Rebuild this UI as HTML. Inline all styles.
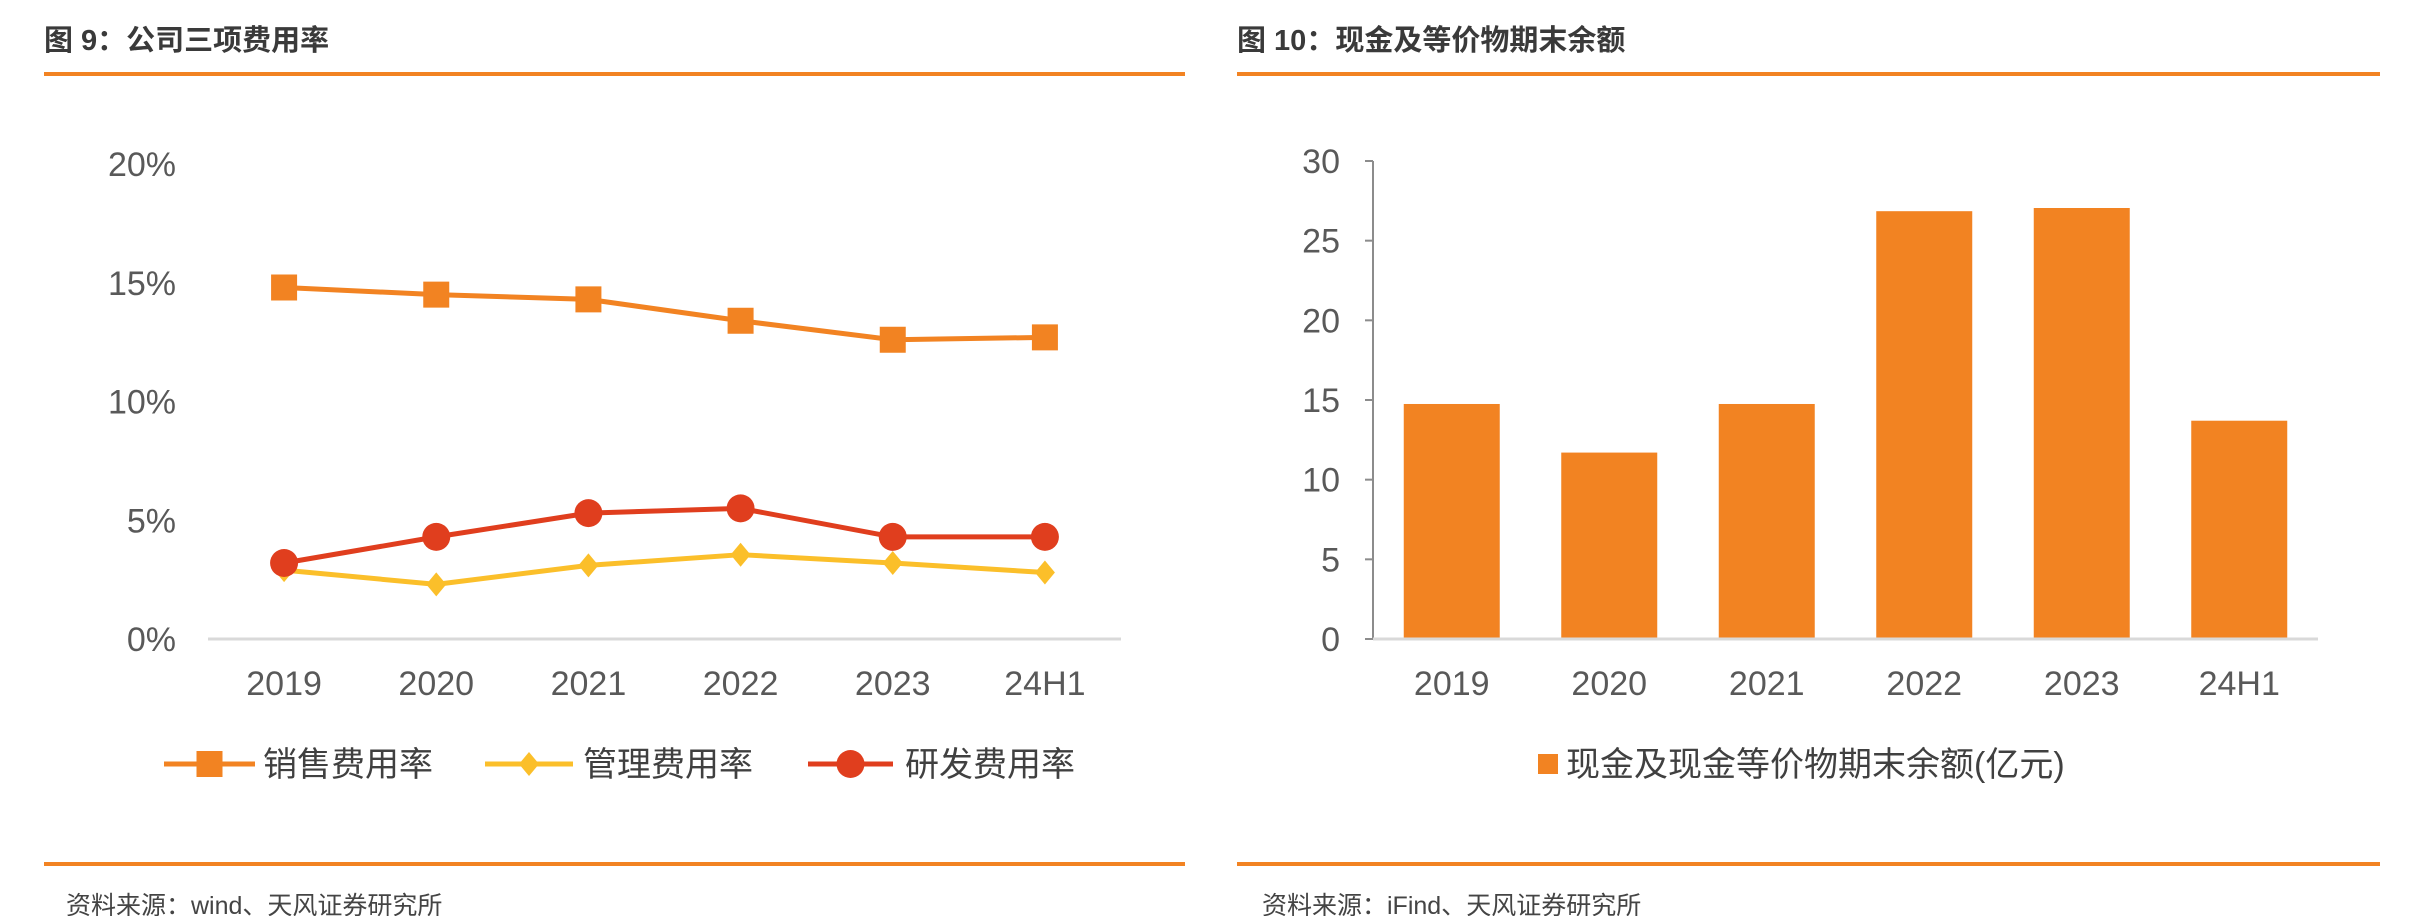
<!DOCTYPE html>
<html><head><meta charset="utf-8"><style>
html,body{margin:0;padding:0;background:#fff;}
svg{display:block;font-family:"Liberation Sans","Noto Sans CJK SC",sans-serif;}
</style></head><body>
<svg id="c" width="2420" height="916" viewBox="0 0 2420 916">
<text x="44" y="50" font-size="29" font-weight="bold" fill="#3a3a3a">图 9：公司三项费用率</text>
<rect x="44" y="72" width="1141" height="4" fill="#F28322"/>
<rect x="44" y="862" width="1141" height="4" fill="#F28322"/>
<text x="66" y="914" font-size="25" fill="#444">资料来源：wind、天风证券研究所</text>
<text x="1237" y="50" font-size="29" font-weight="bold" fill="#3a3a3a">图 10：现金及等价物期末余额</text>
<rect x="1237" y="72" width="1143" height="4" fill="#F28322"/>
<rect x="1237" y="862" width="1143" height="4" fill="#F28322"/>
<text x="1262" y="914" font-size="25" fill="#444">资料来源：iFind、天风证券研究所</text>
<g id="left"></g>
<g id="right"></g>
</svg>
<script>
const lineCats = ["2019","2020","2021","2022","2023","24H1"];
const salesRate = [14.8,14.5,14.3,13.4,12.6,12.7];
const adminRate = [2.9,2.3,3.1,3.55,3.2,2.8];
const rdRate = [3.2,4.3,5.3,5.5,4.3,4.3];
const pctTicks = [0,5,10,15,20];
const barCats = ["2019","2020","2021","2022","2023","24H1"];
const cashVals = [14.75,11.7,14.75,26.85,27.05,13.7];
const cashTicks = [0,5,10,15,20,25,30];

const NS="http://www.w3.org/2000/svg";
function mk(parent,tag,attrs,text){const e=document.createElementNS(NS,tag);for(const k in attrs)e.setAttribute(k,attrs[k]);if(text!==undefined)e.textContent=text;parent.appendChild(e);return e;}

// Left chart
const L=document.getElementById('left');
const lx0=208,lx1=1121,ly0=639,ly20=164;
const ly=v=>ly0-(v/20)*(ly0-ly20);
const lstep=(lx1-lx0)/lineCats.length;
const lx=i=>lx0+lstep*(i+0.5);
pctTicks.forEach(t=>{
  const e=mk(L,'text',{x:176,y:ly(t)+12,'font-size':34,fill:'#595959','text-anchor':'end'},t+'%');
  
  
});
const ax=mk(L,'line',{x1:lx0,x2:lx1,y1:ly0,y2:ly0,stroke:'#d9d9d9','stroke-width':3});


lineCats.forEach((c,i)=>{
  const e=mk(L,'text',{x:lx(i),y:695,'font-size':34,fill:'#595959','text-anchor':'middle'},c);
  
  
});
function marker(g,type,x,y,col){
  let e;
  if(type==='sq') e=mk(g,'rect',{x:x-13,y:y-13,width:26,height:26,fill:col});
  else if(type==='di') e=mk(g,'polygon',{points:`${x},${y-12} ${x+10},${y} ${x},${y+12} ${x-10},${y}`,fill:col});
  else e=mk(g,'circle',{cx:x,cy:y,r:14,fill:col});
  return e;
}
const series=[
  {name:'sales',vals:salesRate,col:'#F28322',m:'sq'},
  {name:'admin',vals:adminRate,col:'#FBBF2A',m:'di'},
  {name:'rd',vals:rdRate,col:'#E03E1E',m:'ci'}
];
series.forEach(s=>{
  const g=mk(L,'g',{});
  
  
  const p=mk(g,'polyline',{points:s.vals.map((v,i)=>lx(i)+','+ly(v)).join(' '),fill:'none',stroke:s.col,'stroke-width':5,'stroke-linejoin':'round'});
  
  
  s.vals.forEach((v,i)=>{
    const m=marker(g,s.m,lx(i),ly(v),s.col);
    
    
  });
});
const legs=[
  {t:'销售费用率',col:'#F28322',m:'sq',x0:164,x1:255,tx:263},
  {t:'管理费用率',col:'#FBBF2A',m:'di',x0:485,x1:573,tx:583},
  {t:'研发费用率',col:'#E03E1E',m:'ci',x0:808,x1:893,tx:905}
];
legs.forEach(l=>{
  const g=mk(L,'g',{});
  
  
  mk(g,'line',{x1:l.x0,x2:l.x1,y1:764,y2:764,stroke:l.col,'stroke-width':5});
  marker(g,l.m,(l.x0+l.x1)/2,764,l.col);
  mk(g,'text',{x:l.tx,y:776,'font-size':34,fill:'#404040'},l.t);
});

// Right chart
const R=document.getElementById('right');
const rx0=1373,rx1=2318,ry0=639,ry30=161;
const ry=v=>ry0-(v/30)*(ry0-ry30);
const rstep=(rx1-rx0)/barCats.length;
const rxc=i=>rx0+rstep*(i+0.5);
const yax=mk(R,'line',{x1:rx0,x2:rx0,y1:ry30,y2:ry0,stroke:'#8c8c8c','stroke-width':2});


cashTicks.forEach(t=>{
  mk(R,'line',{x1:rx0-8,x2:rx0,y1:ry(t),y2:ry(t),stroke:'#8c8c8c','stroke-width':2});
  const e=mk(R,'text',{x:1340,y:ry(t)+12,'font-size':34,fill:'#595959','text-anchor':'end'},t);
  
  
});
cashVals.forEach((v,i)=>{
  const b=mk(R,'rect',{x:rxc(i)-48,y:ry(v),width:96,height:ry0-ry(v),fill:'#F28322'});
  
  
});
const xax=mk(R,'line',{x1:rx0,x2:rx1,y1:ry0,y2:ry0,stroke:'#d9d9d9','stroke-width':3});


barCats.forEach((c,i)=>{
  const e=mk(R,'text',{x:rxc(i),y:695,'font-size':34,fill:'#595959','text-anchor':'middle'},c);
  
  
});
const lg=mk(R,'g',{});


mk(lg,'rect',{x:1538,y:754,width:20,height:20,fill:'#F28322'});
mk(lg,'text',{x:1566,y:776,'font-size':34,fill:'#404040'},'现金及现金等价物期末余额(亿元)');
</script>
</body></html>
